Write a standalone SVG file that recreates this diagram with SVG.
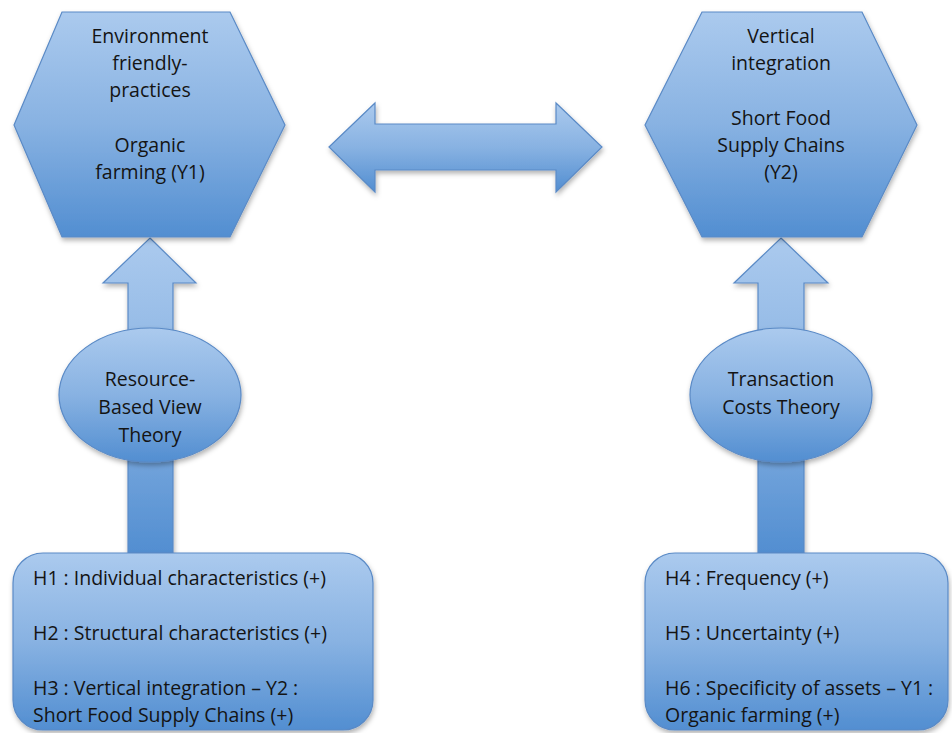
<svg xmlns="http://www.w3.org/2000/svg" width="952" height="733" viewBox="0 0 952 733">
<defs>
<linearGradient id="g" x1="0" y1="0" x2="0" y2="1">
<stop offset="0" stop-color="#abcaee"/>
<stop offset="0.5" stop-color="#88b2e2"/>
<stop offset="1" stop-color="#528ed1"/>
</linearGradient>
<filter id="sh" x="-10%" y="-10%" width="125%" height="125%">
<feDropShadow dx="1" dy="3" stdDeviation="2.5" flood-color="#000" flood-opacity="0.3"/>
</filter>
</defs>
<style>
.s{fill:url(#g);stroke:#5a8ac6;stroke-width:1.2;filter:url(#sh)}
.t{font-family:"Open Sans","Liberation Sans",sans-serif;font-size:19.5px;fill:#141414}
.c{text-anchor:middle}
</style>
<g id="connectors">
<path class="s" d="M329,147 L375,103 L375,124 L556,124 L556,103 L602,147 L556,192 L556,170 L375,170 L375,192 Z"/>
<path class="s" d="M150,238 L196,283 L173,283 L173,553 L128,553 L128,283 L103,283 Z"/>
<path class="s" d="M781,238 L828,283 L804,283 L804,553 L758,553 L758,283 L734,283 Z"/>
</g>
<g id="hex-left">
<path class="s" d="M62,12 L230,12 L285,125 L230,237 L62,237 L14,125 Z"/>
<text class="t c" x="150" y="43">Environment</text>
<text class="t c" x="150" y="70">friendly-</text>
<text class="t c" x="150" y="97">practices</text>
<text class="t c" x="150" y="152">Organic</text>
<text class="t c" x="150" y="179">farming (Y1)</text>
</g>
<g id="hex-right">
<path class="s" d="M702,12 L862,12 L917,125 L862,237 L702,237 L645,125 Z"/>
<text class="t c" x="781" y="43">Vertical</text>
<text class="t c" x="781" y="70">integration</text>
<text class="t c" x="781" y="125">Short Food</text>
<text class="t c" x="781" y="152">Supply Chains</text>
<text class="t c" x="781" y="179">(Y2)</text>
</g>
<g id="ellipse-left">
<ellipse class="s" cx="150" cy="395" rx="91" ry="67"/>
<text class="t c" x="150" y="386">Resource-</text>
<text class="t c" x="150" y="414">Based View</text>
<text class="t c" x="150" y="442">Theory</text>
</g>
<g id="ellipse-right">
<ellipse class="s" cx="781" cy="395" rx="91" ry="67"/>
<text class="t c" x="781" y="386">Transaction</text>
<text class="t c" x="781" y="414">Costs Theory</text>
</g>
<g id="box-left">
<rect class="s" x="13" y="553" width="360" height="177" rx="30"/>
<text class="t" x="33" y="585">H1 : Individual characteristics (+)</text>
<text class="t" x="33" y="640">H2 : Structural characteristics (+)</text>
<text class="t" x="33" y="695">H3 : Vertical integration – Y2 :</text>
<text class="t" x="33" y="722">Short Food Supply Chains (+)</text>
</g>
<g id="box-right">
<rect class="s" x="645" y="553" width="303" height="177" rx="30"/>
<text class="t" x="665" y="585">H4 : Frequency (+)</text>
<text class="t" x="665" y="640">H5 : Uncertainty (+)</text>
<text class="t" x="665" y="695">H6 : Specificity of assets – Y1 :</text>
<text class="t" x="665" y="722">Organic farming (+)</text>
</g>
</svg>
